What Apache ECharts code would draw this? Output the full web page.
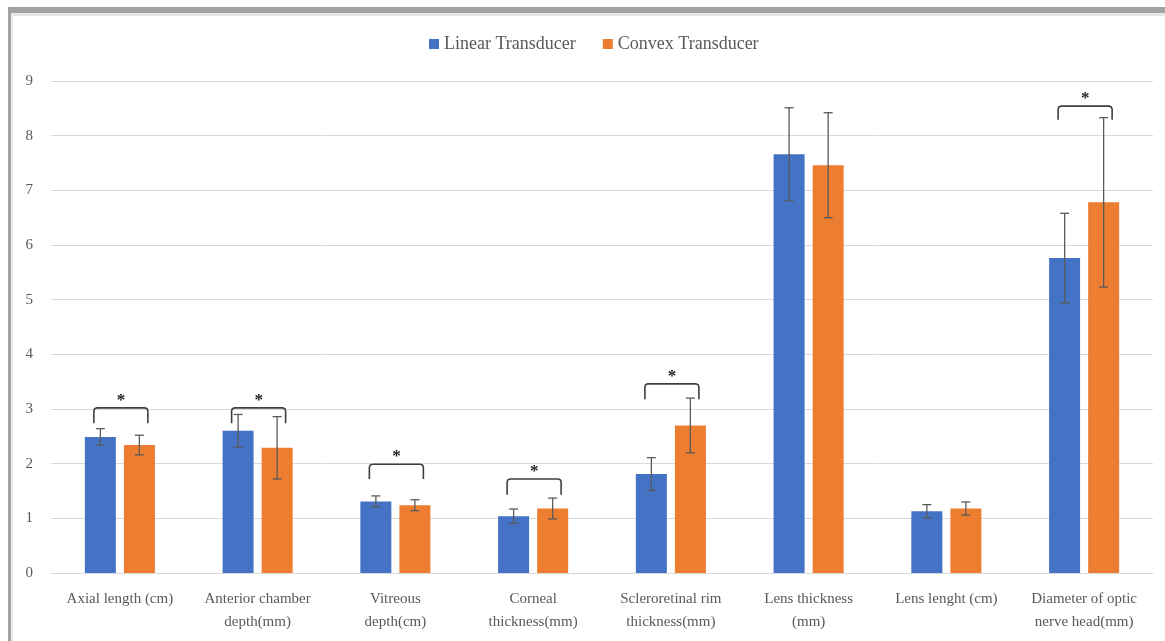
<!DOCTYPE html>
<html>
<head>
<meta charset="utf-8">
<script src="https://cdn.jsdelivr.net/npm/echarts@6/dist/echarts.min.js"></script>
<style>
html,body{margin:0;padding:0;background:#fff;}
#c{width:1165px;height:641px;}
</style>
</head>
<body>
<div id="c"></div>
<script>
const categories = ['Axial length (cm)', 'Anterior chamber\ndepth(mm)', 'Vitreous\ndepth(cm)', 'Corneal\nthickness(mm)', 'Scleroretinal rim\nthickness(mm)', 'Lens thickness\n(mm)', 'Lens lenght (cm)', 'Diameter of optic\nnerve head(mm)'];
const linearValues = [2.49, 2.60, 1.31, 1.04, 1.81, 7.66, 1.13, 5.76];
const linearErr    = [0.15, 0.30, 0.10, 0.13, 0.30, 0.85, 0.12, 0.82];
const convexValues = [2.34, 2.29, 1.24, 1.18, 2.70, 7.46, 1.18, 6.78];
const convexErr    = [0.18, 0.57, 0.10, 0.19, 0.50, 0.96, 0.12, 1.55];
// significance brackets: category index, top value, end value
const sigIndex = [0, 1, 2, 3, 4, 7];
const sigTop   = [3.02, 3.02, 1.99, 1.72, 3.46, 8.54];
const sigEnd   = [2.74, 2.74, 1.72, 1.43, 3.18, 8.29];
const yTicks = [0, 1, 2, 3, 4, 5, 6, 7, 8, 9];

const BAR_W = 31, OFF = 19.5;
const FONT = '"Liberation Serif", "DejaVu Serif", serif';

function errSeries(vals, errs, off, name) {
  return {
    type: 'custom', name: name + ' err', silent: true, z: 5,
    data: vals.map((v, i) => [i, v - errs[i], v + errs[i]]),
    renderItem: function (params, api) {
      const lo = api.coord([api.value(0), api.value(1)]);
      const hi = api.coord([api.value(0), api.value(2)]);
      const x = lo[0] + off;
      const st = { stroke: '#5a5a5a', lineWidth: 1.3 };
      return { type: 'group', children: [
        { type: 'line', shape: { x1: x, y1: lo[1], x2: x, y2: hi[1] }, style: st },
        { type: 'line', shape: { x1: x - 4.5, y1: lo[1], x2: x + 4.5, y2: lo[1] }, style: st },
        { type: 'line', shape: { x1: x - 4.5, y1: hi[1], x2: x + 4.5, y2: hi[1] }, style: st }
      ]};
    }
  };
}

const option = {
  animation: false,
  backgroundColor: '#fff',
  graphic: [
    { type: 'rect', shape: { x: 8, y: 7, width: 1157, height: 6 }, style: { fill: '#a3a3a3' }, z: 100 },
    { type: 'rect', shape: { x: 8, y: 7, width: 3, height: 634 }, style: { fill: '#a3a3a3' }, z: 100 },
    { type: 'rect', shape: { x: 11, y: 13, width: 1154, height: 3 }, style: { fill: '#e8e8e8' }, z: 100 },
    { type: 'rect', shape: { x: 11, y: 13, width: 2, height: 628 }, style: { fill: '#e8e8e8' }, z: 100 }
  ],
  legend: {
    left: 424, top: 30,
    itemWidth: 10, itemHeight: 10, itemGap: 27,
    icon: 'rect',
    textStyle: { fontFamily: FONT, fontSize: 18, color: '#595959' },
    data: ['Linear Transducer', 'Convex Transducer']
  },
  grid: { left: 51, right: 12, top: 81, bottom: 68, containLabel: false },
  xAxis: {
    type: 'category', data: categories,
    axisTick: { show: false },
    axisLine: { lineStyle: { color: '#d9d9d9', width: 1 } },
    axisLabel: { interval: 0, margin: 15, fontFamily: FONT, fontSize: 15, color: '#595959', lineHeight: 23 }
  },
  yAxis: {
    type: 'value', min: 0, max: 9, interval: 1,
    axisLabel: { margin: 18, fontFamily: FONT, fontSize: 15, color: '#595959',
      formatter: v => yTicks.includes(v) ? String(v) : '' },
    splitLine: { lineStyle: { color: '#d9d9d9', width: 1 } },
    axisLine: { show: false }, axisTick: { show: false }
  },
  series: [
    { name: 'Linear Transducer', type: 'bar', data: linearValues, barWidth: BAR_W, barGap: '26%',
      itemStyle: { color: '#4472C4' } },
    { name: 'Convex Transducer', type: 'bar', data: convexValues, barWidth: BAR_W, barGap: '26%',
      itemStyle: { color: '#ED7D31' } },
    errSeries(linearValues, linearErr, -OFF, 'lin'),
    errSeries(convexValues, convexErr, OFF, 'con'),
    {
      type: 'custom', silent: true, z: 6,
      data: sigIndex.map((c, i) => [c, sigTop[i], sigEnd[i]]),
      renderItem: function (params, api) {
        const t = api.coord([api.value(0), api.value(1)]);
        const e = api.coord([api.value(0), api.value(2)]);
        const x1 = t[0] - 26, x2 = t[0] + 28, yt = t[1], yb = e[1];
        return { type: 'group', children: [
          { type: 'polyline', shape: { points: [[x1, yb], [x1, yt + 3], [x1 + 0.8, yt + 0.8], [x1 + 3, yt], [x2 - 3, yt], [x2 - 0.8, yt + 0.8], [x2, yt + 3], [x2, yb]] },
            style: { stroke: '#3f3f3f', lineWidth: 1.6, fill: null } },
          { type: 'text', x: t[0] + 1, y: yt + 1,
            style: { text: '*', fontFamily: FONT, fontSize: 17, fontWeight: 'bold', fill: '#222', align: 'center', verticalAlign: 'bottom' } }
        ]};
      }
    }
  ]
};
const chart = echarts.init(document.getElementById('c'), null, { renderer: 'canvas' });
chart.setOption(option);
</script>
</body>
</html>
